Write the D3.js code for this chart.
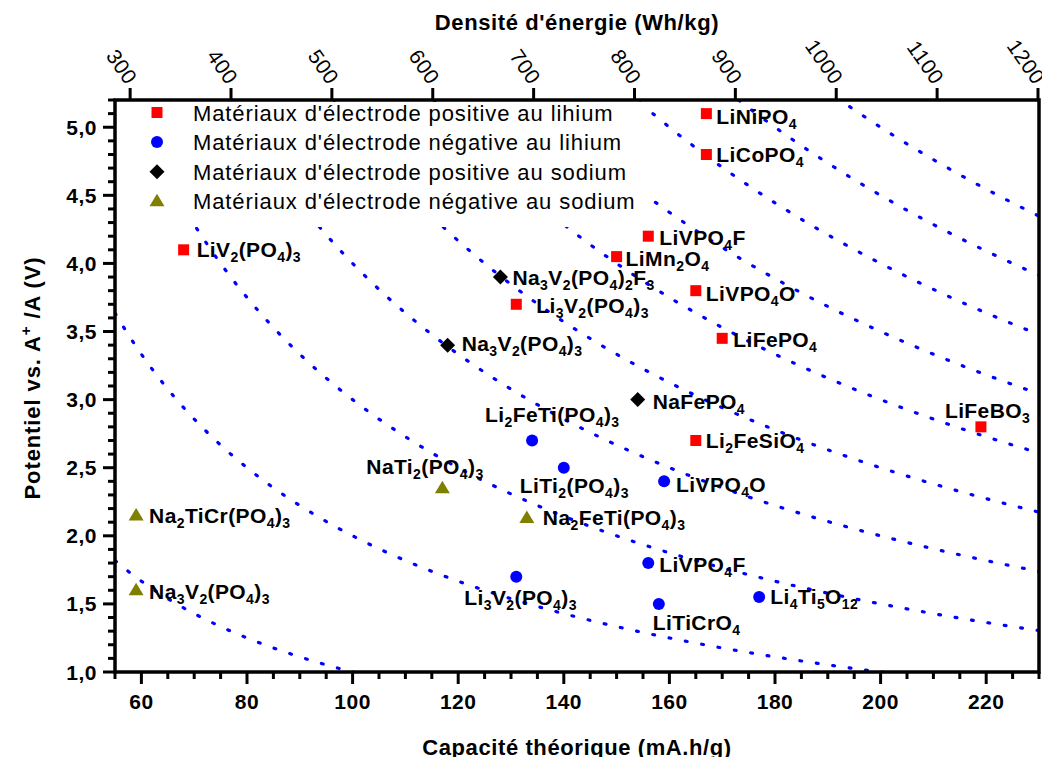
<!DOCTYPE html>
<html>
<head>
<meta charset="utf-8">
<script src="https://cdn.jsdelivr.net/npm/d3@7"></script>
<style>
body{margin:0;background:#fff;}
text{font-family:"Liberation Sans",Arial,sans-serif;}
</style>
</head>
<body>
<svg id="chart" width="1042" height="757"></svg>
<script>
// ---------- DATA ----------
const seriesNames = [
  "Matériaux d'électrode positive au lihium",
  "Matériaux d'électrode négative au lihium",
  "Matériaux d'électrode positive au sodium",
  "Matériaux d'électrode négative au sodium"
];
const seriesColors = ["#ff0000", "#0000ff", "#000000", "#808000"];
const seriesShapes = ["square", "circle", "diamond", "triangle"];

// Li positive (red squares)
const liPosNames = ["LiNiPO_4","LiCoPO_4","LiVPO_4F","LiMn_2O_4","LiVPO_4O","LiFePO_4","LiV_2(PO_4)_3","Li_3V_2(PO_4)_3","Li_2FeSiO_4","LiFeBO_3"];
const liPosCap   = [167, 167, 156, 150, 165, 170, 68, 131, 165, 219];
const liPosV     = [5.1, 4.8, 4.2, 4.05, 3.8, 3.45, 4.1, 3.7, 2.7, 2.8];

// Li negative (blue circles)
const liNegNames = ["Li_2FeTi(PO_4)_3","LiTi_2(PO_4)_3","LiVPO_4O","LiVPO_4F","LiTiCrO_4","Li_4Ti_5O_12","Li_3V_2(PO_4)_3"];
const liNegCap   = [134, 140, 159, 156, 158, 177, 131];
const liNegV     = [2.7, 2.5, 2.4, 1.8, 1.5, 1.55, 1.7];

// Na positive (black diamonds)
const naPosNames = ["Na_3V_2(PO_4)_2F_3","Na_3V_2(PO_4)_3","NaFePO_4"];
const naPosCap   = [128, 118, 154];
const naPosV     = [3.9, 3.4, 3.0];

// Na negative (olive triangles)
const naNegNames = ["NaTi_2(PO_4)_3","Na_2TiCr(PO_4)_3","Na_2FeTi(PO_4)_3","Na_3V_2(PO_4)_3"];
const naNegCap   = [117, 59, 133, 59];
const naNegV     = [2.35, 2.15, 2.13, 1.6];

// iso-energy levels (Wh/kg)
const energyLevels = [100, 200, 300, 400, 500, 600, 700, 800, 900, 1000];

// tick values
const xMajorTicks = [60, 80, 100, 120, 140, 160, 180, 200, 220];
const yMajorTicks = [1.0, 1.5, 2.0, 2.5, 3.0, 3.5, 4.0, 4.5, 5.0];
const topTicks = [300, 400, 500, 600, 700, 800, 900, 1000, 1100, 1200];

// ---------- LAYOUT (label offsets, px) ----------
const labelOffsets = [
  [[10,10],[10,8],[11,9],[9,9],[10,10],[11,9],[13,7],[20,9],[10,8],[-36,-9]],
  [[-47,-18],[-44,25],[12,11],[11,9],[-6,26],[11,7],[-52,28]],
  [[12,8],[14,6],[15,9]],
  [[-76,-14],[13,8],[16,7],[13,9]]
];

const series = [
  {names: liPosNames, cap: liPosCap, v: liPosV},
  {names: liNegNames, cap: liNegCap, v: liNegV},
  {names: naPosNames, cap: naPosCap, v: naPosV},
  {names: naNegNames, cap: naNegCap, v: naNegV}
];

// ---------- SCALES ----------
const L = 115, R = 1039, T = 100, B = 672;
const x = d3.scaleLinear().domain([55, 230]).range([L, R]);
const y = d3.scaleLinear().domain([1.0, 5.2]).range([B, T]);
const xTop = d3.scaleLinear().domain([285, 1201]).range([L, R]);

const svg = d3.select("#chart");
svg.append("rect").attr("width",1042).attr("height",757).attr("fill","#fff");

svg.append("defs").append("clipPath").attr("id","plotclip")
  .append("rect").attr("x",L).attr("y",T).attr("width",R-L).attr("height",B-T);

// ---------- ISO-ENERGY CURVES ----------
const capSamples = d3.range(55, 230.01, 0.5);
const line = d3.line().x(d => x(d[0])).y(d => y(d[1]));
const curveG = svg.append("g").attr("clip-path","url(#plotclip)");
energyLevels.forEach(E => {
  const pts = capSamples.map(c => [c, E / c]).filter(p => p[1] <= 5.6 && p[1] >= 0.9);
  curveG.append("path").attr("d", line(pts))
    .attr("fill","none").attr("stroke","#0000ff").attr("stroke-width",3.2)
    .attr("stroke-dasharray","1.8 14.8").attr("stroke-linecap","round");
});

// ---------- LEGEND ----------
const legG = svg.append("g");
legG.append("rect").attr("x",L+2).attr("y",T+2).attr("width",530).attr("height",125).attr("fill","#fff");

function shapePath(shape) {
  if (shape === "square") return "M-5.5,-5.5H5.5V5.5H-5.5Z";
  if (shape === "diamond") return "M0,-7.5L7.5,0L0,7.5L-7.5,0Z";
  if (shape === "triangle") return "M0,-7.5L7.5,5L-7.5,5Z";
  return null;
}
function drawMarker(g, shape, color, cx, cy) {
  if (shape === "circle") {
    g.append("circle").attr("cx",cx).attr("cy",cy).attr("r",6).attr("fill",color);
  } else {
    g.append("path").attr("d",shapePath(shape)).attr("transform",`translate(${cx},${cy})`).attr("fill",color);
  }
}
seriesNames.forEach((name, i) => {
  const cy = 112.5 + i * 29.6;
  drawMarker(legG, seriesShapes[i], seriesColors[i], 157, cy);
  legG.append("text").attr("x",193).attr("y",cy + 8).attr("font-size",22)
    .attr("letter-spacing","0.9px").attr("fill","#000").text(name);
});

// ---------- POINTS & LABELS ----------
function addFormula(textSel, formula) {
  const parts = formula.split(/(_\d+)/).filter(s => s.length);
  let sub = false;
  parts.forEach(p => {
    if (p.startsWith("_")) {
      textSel.append("tspan").attr("font-size",14).attr("dy", sub ? 0 : 5).text(p.slice(1));
      sub = true;
    } else {
      textSel.append("tspan").attr("dy", sub ? -5 : 0).text(p);
      sub = false;
    }
  });
}
const ptG = svg.append("g");
const lblG = svg.append("g");
series.forEach((s, i) => {
  s.names.forEach((n, j) => {
    const px = x(s.cap[j]), py = y(s.v[j]);
    drawMarker(ptG, seriesShapes[i], seriesColors[i], px, py);
    const off = labelOffsets[i][j];
    const t = lblG.append("text").attr("x", px + off[0]).attr("y", py + off[1])
      .attr("font-size",21).attr("font-weight","bold").attr("letter-spacing","0.4px").attr("fill","#000");
    addFormula(t, n);
  });
});

// ---------- AXES ----------
const axG = svg.append("g").attr("stroke","#000");
d3.range(55, 230.01, 5).forEach(v => {
  const major = xMajorTicks.includes(v);
  axG.append("line").attr("x1",x(v)).attr("x2",x(v)).attr("y1",B).attr("y2",B + (major ? 12 : 7)).attr("stroke-width",3);
});
d3.range(10, 52.01, 1).forEach(k => {
  const v = k / 10;
  const major = k % 5 === 0;
  axG.append("line").attr("x1",L).attr("x2",L - (major ? 12 : 7)).attr("y1",y(v)).attr("y2",y(v)).attr("stroke-width",3);
});
topTicks.forEach(v => {
  axG.append("line").attr("x1",xTop(v)).attr("x2",xTop(v)).attr("y1",T).attr("y2",T - 12).attr("stroke-width",3);
});
axG.append("rect").attr("x",L).attr("y",T).attr("width",R-L).attr("height",B-T)
  .attr("fill","none").attr("stroke-width",3.5);

// tick labels
const tG = svg.append("g").attr("fill","#000");
xMajorTicks.forEach(v => {
  tG.append("text").attr("x",x(v)).attr("y",709).attr("text-anchor","middle")
    .attr("font-size",21).attr("font-weight","bold").attr("letter-spacing","0.5px").text(v);
});
yMajorTicks.forEach(v => {
  tG.append("text").attr("x",97).attr("y",y(v) + 7.5).attr("text-anchor","end")
    .attr("font-size",21).attr("font-weight","bold").attr("letter-spacing","0.5px")
    .text(v.toFixed(1).replace(".", ","));
});
topTicks.forEach(v => {
  tG.append("text").attr("transform",`translate(${xTop(v) - 4},${86}) rotate(55)`)
    .attr("text-anchor","end").attr("font-size",21).attr("letter-spacing","0.5px").text(v);
});

// axis titles
tG.append("text").attr("x",577).attr("y",30).attr("text-anchor","middle")
  .attr("font-size",22).attr("font-weight","bold").attr("letter-spacing","0.6px").text("Densité d'énergie (Wh/kg)");
tG.append("text").attr("x",577).attr("y",755).attr("text-anchor","middle")
  .attr("font-size",22).attr("font-weight","bold").attr("letter-spacing","0.6px").text("Capacité théorique (mA.h/g)");
const yt = tG.append("text").attr("transform","translate(40,378) rotate(-90)").attr("text-anchor","middle")
  .attr("font-size",22).attr("font-weight","bold").attr("letter-spacing","0.9px");
yt.append("tspan").text("Potentiel vs. A");
yt.append("tspan").attr("font-size",15).attr("dy",-9).text("+");
yt.append("tspan").attr("dy",9).text(" /A (V)");
</script>
</body>
</html>
